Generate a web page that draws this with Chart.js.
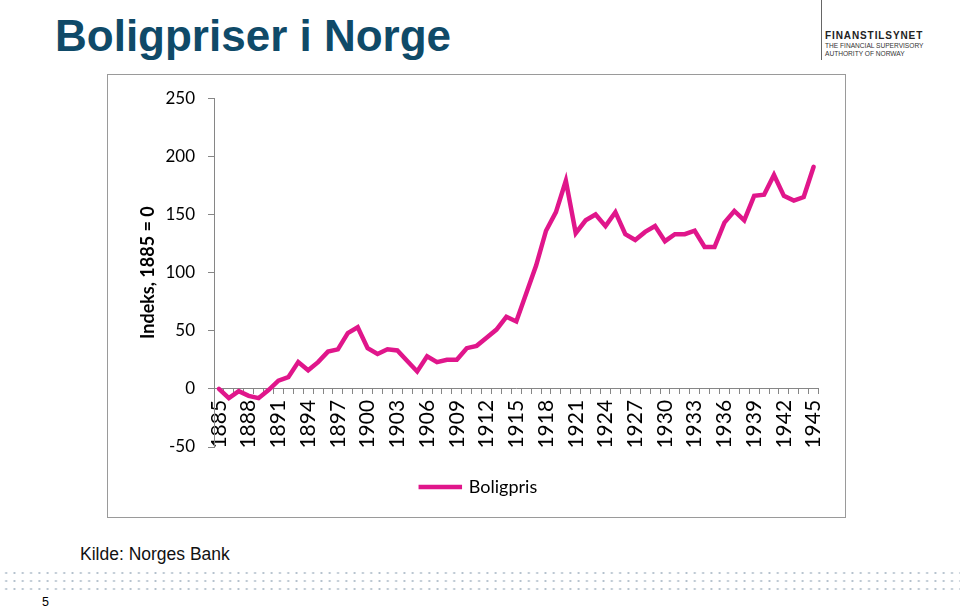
<!DOCTYPE html>
<html>
<head>
<meta charset="utf-8">
<script src="https://cdn.jsdelivr.net/npm/chart.js@4"></script>
<style>
  html, body { margin: 0; padding: 0; background: #fff; }
  body { width: 960px; height: 609px; position: relative; overflow: hidden; font-family: "Liberation Sans", Arial, sans-serif; }
  #title { position: absolute; left: 55px; top: 11px; font-size: 44px; font-weight: bold; color: #0f4a68; white-space: nowrap; }
  #logoBar { position: absolute; left: 821px; top: 0; width: 1px; height: 60px; background: #666; }
  #logo1 { position: absolute; left: 825px; top: 30px; font-size: 10px; font-weight: bold; letter-spacing: 0.9px; color: #222; }
  #logo2 { position: absolute; left: 825px; top: 42px; font-size: 6.6px; line-height: 8px; color: #333; }
  #frame { position: absolute; left: 107px; top: 74px; width: 737px; height: 442px; border: 1px solid #9a9a9a; }
  #chartBox { position: absolute; left: 0; top: 0; width: 737px; height: 442px; }
  #source { position: absolute; left: 80px; top: 544px; font-size: 17.5px; color: #111; }
  #dots { position: absolute; left: 0; top: 569px; width: 960px; height: 24px;
          background-image: radial-gradient(circle, #b3c0cc 0.8px, transparent 1.3px);
          background-size: 8.3px 8px; background-position: 2px 0; }
  #page { position: absolute; left: 42px; top: 595px; font-size: 12.5px; color: #000; }
</style>
</head>
<body>
<div id="title">Boligpriser i Norge</div>
<div id="logoBar"></div>
<div id="logo1">FINANSTILSYNET</div>
<div id="logo2">THE FINANCIAL SUPERVISORY<br>AUTHORITY OF NORWAY</div>
<div id="frame"><div id="chartBox"><canvas id="boligChart"></canvas></div></div>
<div id="source">Kilde: Norges Bank</div>
<div id="dots"></div>
<div id="page">5</div>

<script>
// ===== DATA =====
const YEARS = [
  1885, 1886, 1887, 1888, 1889, 1890, 1891, 1892, 1893, 1894,
  1895, 1896, 1897, 1898, 1899, 1900, 1901, 1902, 1903, 1904,
  1905, 1906, 1907, 1908, 1909, 1910, 1911, 1912, 1913, 1914,
  1915, 1916, 1917, 1918, 1919, 1920, 1921, 1922, 1923, 1924,
  1925, 1926, 1927, 1928, 1929, 1930, 1931, 1932, 1933, 1934,
  1935, 1936, 1937, 1938, 1939, 1940, 1941, 1942, 1943, 1944,
  1945,
];
const BOLIGPRIS = [
  0, -8, -2, -6, -8, -1, 7, 10, 23, 16,
  23, 32, 34, 48, 53, 35, 30, 34, 33, 24,
  15, 28, 23, 25, 25, 35, 37, 44, 51, 62,
  58, 82, 106, 136, 152, 179, 134, 145, 150, 140,
  152, 133, 128, 135, 140, 127, 133, 133, 136, 122,
  122, 143, 153, 145, 166, 167, 184, 166, 162, 165,
  191,
];
const Y_MIN = -50, Y_MAX = 250, Y_STEP = 50;
const LABEL_EVERY = 3;

const PINK = '#e0168b';
const AXIS_GREY = '#868686';
const TICK_FONT = 'Lato, "Open Sans", sans-serif';

// legend sits a bit right of centre in the original
const legendNudge = {
  id: 'legendNudge',
  afterLayout(chart) {
    chart.legend.left += 13;
    chart.legend.right += 13;
  },
};

function initChart() {
  new Chart(document.getElementById('boligChart'), {
    type: 'line',
    data: {
      labels: YEARS.map(String),
      datasets: [{
        label: 'Boligpris',
        data: BOLIGPRIS,
        borderColor: PINK,
        backgroundColor: PINK,
        borderWidth: 4.5,
        borderCapStyle: 'round',
        pointRadius: 0,
        tension: 0,
      }],
    },
    options: {
      responsive: true, maintainAspectRatio: false,
      animation: false,
      layout: { padding: { left: 0, right: 21, top: 23, bottom: 11 } },
      plugins: {
        legend: {
          position: 'bottom',
          labels: {
            boxWidth: 39, boxHeight: 0.01,
            color: '#000',
            font: { family: TICK_FONT, size: 18 },
            padding: 31,
          },
        },
        tooltip: { enabled: false },
      },
      scales: {
        x: {
          position: { y: 0 },
          offset: true,
          grid: { offset: true, drawOnChartArea: false, tickLength: 5, color: AXIS_GREY },
          border: { color: AXIS_GREY },
          ticks: {
            autoSkip: false, maxRotation: 90, minRotation: 90,
            padding: 6,
            color: '#000',
            font: { family: TICK_FONT, size: 21 },
            callback: (v, i) => (i % LABEL_EVERY === 0 ? YEARS[i] : ''),
          },
        },
        y: {
          min: Y_MIN, max: Y_MAX,
          grid: { drawOnChartArea: false, tickLength: 6, color: AXIS_GREY },
          border: { color: AXIS_GREY },
          ticks: {
            stepSize: Y_STEP, padding: 13,
            color: '#000',
            font: { family: TICK_FONT, size: 17 },
          },
          title: {
            display: true,
            text: 'Indeks, 1885 = 0',
            color: '#000',
            font: { family: TICK_FONT, size: 18, weight: 'bold' },
            padding: { top: 29, bottom: 0 },
          },
          afterFit: s => { s.width = 106; },
        },
      },
    },
    plugins: [legendNudge],
  });
}

window.addEventListener('load', initChart);
</script>
</body>
</html>
